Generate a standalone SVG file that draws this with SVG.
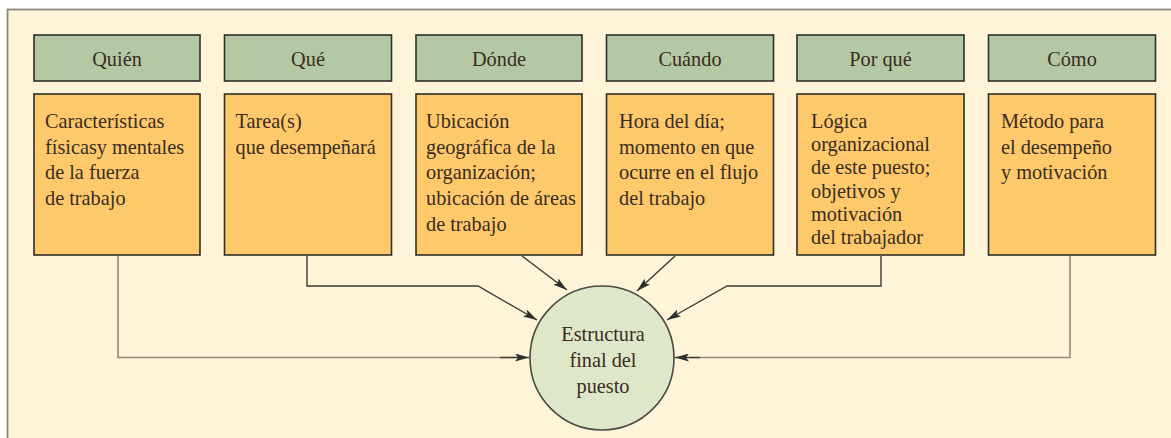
<svg xmlns="http://www.w3.org/2000/svg" width="1171" height="438" viewBox="0 0 1171 438">
<style>
.hdr{fill:#b4c9a3;stroke:#2e2e2a;stroke-width:1.6}
.box{fill:#fec96b;stroke:#2e2e2a;stroke-width:1.6}
.t{font-family:"Liberation Serif","Times New Roman",serif;font-size:20.3px;fill:#3a2c22}
.c{text-anchor:middle}
.ln{fill:none;stroke:#8e8a7c;stroke-width:1.6}
.ar{fill:none;stroke:#3a3a36;stroke-width:1.4;marker-end:url(#ah)}
</style>
<defs>
<marker id="ah" viewBox="0 0 14 8" refX="14" refY="4" markerWidth="14" markerHeight="8" markerUnits="userSpaceOnUse" orient="auto">
<path d="M0,0 L14,4 L0,8 L3,4 Z" fill="#2e2e2a"/>
</marker>
</defs>
<rect x="0" y="0" width="1171" height="438" fill="#ffffff"/>
<rect x="7.5" y="9.5" width="1170" height="440" fill="#fff4d7" stroke="#8a887a" stroke-width="1.8"/>

<g id="connectors">
<polyline class="ln" points="118,256 118,357.5 515,357.5"/>
<line class="ar" x1="500" y1="357.5" x2="529" y2="357.5"/>
<polyline class="ln" points="1070,256 1070,357.5 690,357.5"/>
<line class="ar" x1="700" y1="357.5" x2="675" y2="357.5"/>
<polyline class="ar" points="307,256 307,286 478,286 537,320"/>
<polyline class="ar" points="881,256 881,286 727,286 667,320"/>
<line class="ar" x1="522" y1="256" x2="567" y2="290"/>
<line class="ar" x1="675" y1="256" x2="637" y2="291"/>
</g>

<g id="quien">
<rect class="hdr" x="34" y="35" width="166" height="46"/>
<text class="t c" x="117" y="65.5">Quién</text>
<rect class="box" x="34" y="94" width="166" height="161"/>
<text class="t" x="45" y="128">Características</text>
<text class="t" x="45" y="153.7">físicasy mentales</text>
<text class="t" x="45" y="179.4">de la fuerza</text>
<text class="t" x="45" y="205.1">de trabajo</text>
</g>

<g id="que">
<rect class="hdr" x="224.5" y="35" width="167" height="46"/>
<text class="t c" x="308" y="65.5">Qué</text>
<rect class="box" x="224.5" y="94" width="167" height="161"/>
<text class="t" x="235.5" y="128">Tarea(s)</text>
<text class="t" x="235.5" y="153.7">que desempeñará</text>
</g>

<g id="donde">
<rect class="hdr" x="416" y="35" width="166" height="46"/>
<text class="t c" x="499" y="65.5">Dónde</text>
<rect class="box" x="416" y="94" width="166" height="161"/>
<text class="t" x="426" y="128">Ubicación</text>
<text class="t" x="426" y="153.7">geográfica de la</text>
<text class="t" x="426" y="179.4">organización;</text>
<text class="t" x="426" y="205.1">ubicación de áreas</text>
<text class="t" x="426" y="230.8">de trabajo</text>
</g>

<g id="cuando">
<rect class="hdr" x="606.5" y="35" width="167" height="46"/>
<text class="t c" x="690" y="65.5">Cuándo</text>
<rect class="box" x="606.5" y="94" width="167" height="161"/>
<text class="t" x="619" y="128">Hora del día;</text>
<text class="t" x="619" y="153.7">momento en que</text>
<text class="t" x="619" y="179.4">ocurre en el flujo</text>
<text class="t" x="619" y="205.1">del trabajo</text>
</g>

<g id="porque">
<rect class="hdr" x="797" y="35" width="167" height="46"/>
<text class="t c" x="880.5" y="65.5">Por qué</text>
<rect class="box" x="797" y="94" width="167" height="161"/>
<text class="t" x="811" y="128">Lógica</text>
<text class="t" x="811" y="151.2">organizacional</text>
<text class="t" x="811" y="174.4">de este puesto;</text>
<text class="t" x="811" y="197.6">objetivos y</text>
<text class="t" x="811" y="220.8">motivación</text>
<text class="t" x="811" y="244">del trabajador</text>
</g>

<g id="como">
<rect class="hdr" x="988.5" y="35" width="167" height="46"/>
<text class="t c" x="1072" y="65.5">Cómo</text>
<rect class="box" x="988.5" y="94" width="167" height="161"/>
<text class="t" x="1001" y="128">Método para</text>
<text class="t" x="1001" y="153.7">el desempeño</text>
<text class="t" x="1001" y="179.4">y motivación</text>
</g>

<g id="estructura">
<circle cx="602" cy="358" r="72" fill="#dee7c8" stroke="#4a4a44" stroke-width="1.6"/>
<text class="t c" x="603" y="341">Estructura</text>
<text class="t c" x="603" y="367">final del</text>
<text class="t c" x="603" y="393">puesto</text>
</g>
</svg>
